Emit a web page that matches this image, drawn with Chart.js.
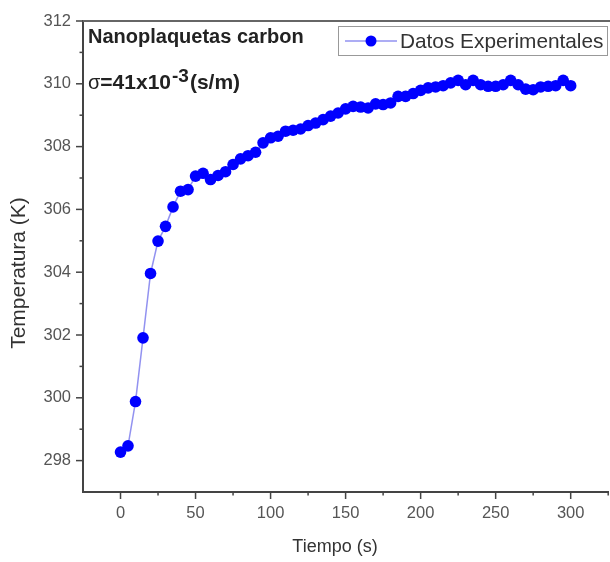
<!DOCTYPE html>
<html>
<head>
<meta charset="utf-8">
<script src="https://cdn.jsdelivr.net/npm/chart.js@4/dist/chart.umd.min.js"></script>
<style>
html,body{margin:0;padding:0;background:#fff;overflow:hidden;width:610px;height:562px;}
canvas{display:block;}
</style>
</head>
<body>
<canvas id="c" width="614" height="562" style="width:614px;height:562px"></canvas>
<script>
// ---- data ----
const timeSeconds = [0,5,10,15,20,25,30,35,40,45,50,55,60,65,70,75,80,85,90,95,100,105,110,115,120,125,130,135,140,145,150,155,160,165,170,175,180,185,190,195,200,205,210,215,220,225,230,235,240,245,250,255,260,265,270,275,280,285,290,295,300];
const temperatureK = [298.27,298.47,299.88,301.91,303.96,304.99,305.46,306.08,306.58,306.63,307.06,307.15,306.95,307.08,307.20,307.43,307.61,307.71,307.82,308.12,308.28,308.33,308.49,308.52,308.56,308.67,308.75,308.86,308.97,309.07,309.20,309.28,309.26,309.23,309.36,309.34,309.39,309.60,309.60,309.69,309.79,309.87,309.90,309.94,310.03,310.11,309.97,310.11,309.97,309.92,309.92,309.97,310.11,309.97,309.83,309.81,309.90,309.92,309.94,310.11,309.94];
const xTickLabels = [0,50,100,150,200,250,300];
const yTickLabels = [298,300,302,304,306,308,310,312];
const seriesName = 'Datos Experimentales';
const xTitle = 'Tiempo (s)';
const yTitle = 'Temperatura (K)';
const noteLine1 = 'Nanoplaquetas carbon';

const FONT = '"Liberation Sans", Arial, Helvetica, sans-serif';
const AXIS = '#444';
const POINT = '#0000ff';
const LINE = 'rgba(110,110,235,0.75)';

const points = timeSeconds.map((t,i)=>({x:t,y:temperatureK[i]}));

const decor = {
  id:'decor',
  afterDraw(chart){
    const ctx = chart.ctx, a = chart.chartArea;
    const xs = chart.scales.x, ys = chart.scales.y;
    ctx.save();
    // top frame
    ctx.strokeStyle = '#666'; ctx.lineWidth = 2;
    ctx.beginPath(); ctx.moveTo(a.left-1, a.top); ctx.lineTo(a.right+2, a.top); ctx.stroke();
    // ticks
    ctx.strokeStyle = AXIS; ctx.lineWidth = 1.5;
    for (let v = -25; v <= 325; v += 25){
      const px = xs.getPixelForValue(v);
      const major = xTickLabels.includes(v);
      if (v === -25) continue;
      ctx.beginPath(); ctx.moveTo(px, a.bottom); ctx.lineTo(px, a.bottom + (major?7:3.5)); ctx.stroke();
    }
    for (let v = 297; v <= 312; v += 1){
      const py = ys.getPixelForValue(v);
      const major = yTickLabels.includes(v);
      if (v === 297) continue;
      ctx.beginPath(); ctx.moveTo(a.left, py); ctx.lineTo(a.left - (major?7:3.5), py); ctx.stroke();
    }
    // axis titles
    ctx.fillStyle = '#333';
    ctx.textAlign = 'center'; ctx.textBaseline = 'middle';
    ctx.font = '18px ' + FONT;
    ctx.fillText(xTitle, 335, 547);
    ctx.save();
    ctx.translate(19, 273); ctx.rotate(-Math.PI/2);
    ctx.font = '21px ' + FONT;
    ctx.fillText(yTitle, 0, 0);
    ctx.restore();
    // annotation
    ctx.fillStyle = '#222';
    ctx.textAlign = 'left'; ctx.textBaseline = 'alphabetic';
    ctx.font = 'bold 20px ' + FONT;
    ctx.fillText(noteLine1, 88, 43);
    let x = 88;
    ctx.font = '20px ' + FONT;
    ctx.fillText('\u03C3', x, 89); x += ctx.measureText('\u03C3').width;
    ctx.font = 'bold 21px ' + FONT;
    ctx.fillText('=41x10', x, 89); x += ctx.measureText('=41x10').width + 1;
    ctx.font = 'bold 19px ' + FONT;
    ctx.fillText('-3', x, 82); x += ctx.measureText('-3').width + 1;
    ctx.font = 'bold 21px ' + FONT;
    ctx.fillText('(s/m)', x, 89);
    // legend
    ctx.strokeStyle = '#999'; ctx.lineWidth = 1;
    ctx.strokeRect(338.5, 26.5, 269, 29);
    ctx.strokeStyle = LINE; ctx.lineWidth = 1.5;
    ctx.beginPath(); ctx.moveTo(345, 41); ctx.lineTo(397, 41); ctx.stroke();
    ctx.fillStyle = POINT;
    ctx.beginPath(); ctx.arc(371, 41, 5.5, 0, Math.PI*2); ctx.fill();
    ctx.fillStyle = '#333';
    ctx.font = '20.8px ' + FONT; ctx.textBaseline = 'middle';
    ctx.fillText(seriesName, 400, 42);
    ctx.restore();
  }
};

new Chart(document.getElementById('c'), {
  type:'line',
  data:{ datasets:[{
    label: seriesName,
    data: points,
    borderColor: LINE,
    borderWidth: 1.5,
    pointRadius: 5.8,
    pointBackgroundColor: POINT,
    pointBorderColor: POINT,
    pointBorderWidth: 0,
    tension: 0,
    clip: false
  }]},
  options:{
    responsive:false,
    animation:false,
    devicePixelRatio:1,
    layout:{ padding:{ top:21, right:1, left:0, bottom:0 } },
    plugins:{ legend:{display:false}, tooltip:{enabled:false} },
    scales:{
      x:{
        type:'linear', min:-25, max:325,
        afterFit(s){ s.height = 70; },
        border:{ display:true, color:AXIS, width:2 },
        grid:{ display:true, drawOnChartArea:false, drawTicks:true, tickLength:7, tickColor:'rgba(0,0,0,0)' },
        ticks:{ stepSize:25, autoSkip:false, maxRotation:0, padding:5, color:'#555',
          font:{ family:FONT, size:16.5 },
          callback:(v)=> xTickLabels.includes(v) ? String(v) : '' }
      },
      y:{
        type:'linear', min:297, max:312,
        afterFit(s){ s.width = 83; },
        border:{ display:true, color:AXIS, width:2 },
        grid:{ display:true, drawOnChartArea:false, drawTicks:true, tickLength:7, tickColor:'rgba(0,0,0,0)' },
        ticks:{ stepSize:1, autoSkip:false, padding:5, color:'#555',
          font:{ family:FONT, size:16.5 },
          callback:(v)=> yTickLabels.includes(v) ? String(v) : '' }
      }
    }
  },
  plugins:[decor]
});
</script>
</body>
</html>
